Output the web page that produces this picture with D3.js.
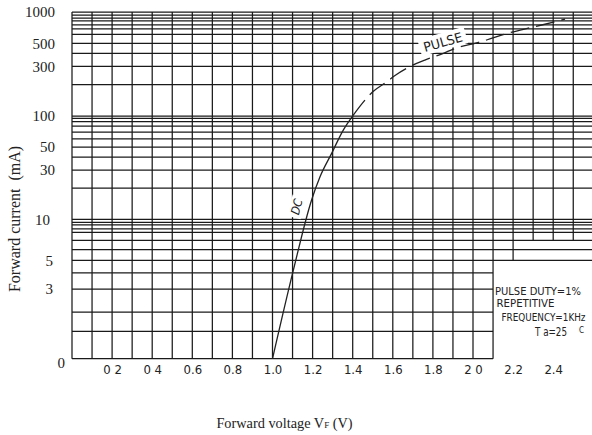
<!DOCTYPE html>
<html>
<head>
<meta charset="utf-8">
<script src="https://d3js.org/d3.v7.min.js"></script>
<style>
body { margin: 0; background: #fff; }
.tech { font-family: "DejaVu Sans Condensed", "DejaVu Sans", sans-serif; font-stretch: condensed; fill: #222; }
.serif { font-family: "Liberation Serif", "Times New Roman", serif; fill: #222; }
</style>
</head>
<body>
<script>
// values
var dcVoltage = [1.0, 1.104, 1.195, 1.237, 1.295, 1.353, 1.403];
var dcCurrent = [1, 4.2, 15.4, 25.8, 43.5, 73, 102];

var pulseVoltage = [1.403, 1.461, 1.5, 1.573, 1.611, 1.702, 1.76, 1.852, 1.902, 2.018, 2.068, 2.168, 2.284, 2.343, 2.459];
var pulseCurrent = [102, 142, 171, 215, 245, 310, 345, 400, 440, 505, 538, 620, 705, 750, 855];

var xTickValues = [0.2, 0.4, 0.6, 0.8, 1.0, 1.2, 1.4, 1.6, 1.8, 2.0, 2.2, 2.4];
var xTickLabels = ["0 2", "0 4", "0.6", "0.8", "1.0", "1.2", "1.4", "1.6", "1.8", "2 0", "2.2", "2.4"];

var yTickValues = [1000, 500, 300, 100, 50, 30, 10, 5, 3, 1];
var yTickLabels = ["1000", "500", "300", "100", "50", "30", "10", "5", "3", "0"];

var xGridValues = [0, 0.1, 0.2, 0.3, 0.4, 0.5, 0.6, 0.7, 0.8, 0.9, 1.0, 1.1, 1.2,
                   1.3, 1.4, 1.5, 1.6, 1.7, 1.8, 1.9, 2.0, 2.1, 2.2, 2.3, 2.4, 2.5];
var yGridValues = [1000, 935, 875, 820, 750, 690, 610, 500, 400, 300, 200,
                   100, 95, 88, 80, 70, 60, 50, 40, 30, 20,
                   10, 9.5, 9.1, 8.5, 8, 7, 6, 5, 4, 3, 2, 1.5, 1];

var w = 592, h = 435;

var svg = d3.select("body").append("svg").attr("width", w).attr("height", h);

var x = d3.scaleLinear().domain([0, 2.6]).range([72, 593.3]);
// the paper's decades are not all the same height, so a piecewise scale on log10
var yLog = d3.scaleLinear()
    .domain([0, Math.log10(2), Math.log10(5), 1, 2, 3])
    .range([358.7, 312, 260.3, 219.3, 116, 12]);
function y(v) { return yLog(Math.log10(v)); }

var grid = svg.append("g").attr("stroke", "#1a1a1a").attr("stroke-width", 1.25);

// horizontal lines: below 5 mA they stop at the note box
grid.selectAll("line.h").data(yGridValues).enter().append("line")
    .attr("class", "h")
    .attr("x1", x(0))
    .attr("x2", function(d){ return d >= 5 ? x(2.6) : x(2.1); })
    .attr("y1", function(d){ return y(d); })
    .attr("y2", function(d){ return y(d); });

// vertical lines: the right ones stop above the note box
grid.selectAll("line.v").data(xGridValues).enter().append("line")
    .attr("class", "v")
    .attr("x1", function(d){ return x(d); })
    .attr("x2", function(d){ return x(d); })
    .attr("y1", y(1000))
    .attr("y2", function(d){
        if (d < 2.15) return y(1);
        if (d < 2.25) return y(5);
        return y(7);
    });

// curves
var line = d3.line()
    .x(function(d){ return x(d[0]); })
    .y(function(d){ return y(d[1]); })
    .curve(d3.curveMonotoneX);

svg.append("path")
    .attr("d", line(dcVoltage.map(function(v, i){ return [v, dcCurrent[i]]; })))
    .attr("fill", "none").attr("stroke", "#222").attr("stroke-width", 1.3);

svg.append("path")
    .attr("d", line(pulseVoltage.map(function(v, i){ return [v, pulseCurrent[i]]; })))
    .attr("fill", "none").attr("stroke", "#222").attr("stroke-width", 1.3)
    .attr("stroke-dasharray", "19,7");

// curve labels on white patches
var pulseLab = svg.append("g")
    .attr("transform", "translate(" + x(1.85) + "," + y(515) + ") rotate(-16)");
pulseLab.append("rect").attr("x", -24).attr("y", -9).attr("width", 48).attr("height", 17).attr("fill", "#fff");
pulseLab.append("text").attr("class", "tech")
    .attr("text-anchor", "middle").attr("dy", "0.36em")
    .attr("font-size", 13).attr("textLength", 40).attr("lengthAdjust", "spacingAndGlyphs")
    .text("PULSE");

var dcLab = svg.append("g")
    .attr("transform", "translate(" + x(1.12) + "," + y(13.2) + ") rotate(-75)");
dcLab.append("rect").attr("x", -11).attr("y", -7).attr("width", 22).attr("height", 14).attr("fill", "#fff");
dcLab.append("text").attr("class", "tech")
    .attr("text-anchor", "middle").attr("dy", "0.36em")
    .attr("font-size", 12).attr("font-style", "italic")
    .text("DC");

// axes (labels only, the grid is the frame)
var xAxis = svg.append("g")
    .attr("transform", "translate(0," + y(1) + ")")
    .call(d3.axisBottom(x).tickValues(xTickValues)
        .tickFormat(function(d, i){ return xTickLabels[i]; })
        .tickSize(0).tickPadding(6));
xAxis.select(".domain").remove();
xAxis.attr("font-family", null).attr("font-size", null);
xAxis.selectAll("text").attr("class", "tech").attr("font-size", 13).attr("fill", "#222");

var yAxis = svg.append("g")
    .attr("transform", "translate(" + x(0) + ",0)")
    .call(d3.axisLeft(yLog).tickValues(yTickValues.map(function(v){ return Math.log10(v); }))
        .tickFormat(function(d, i){ return yTickLabels[i]; })
        .tickSize(0).tickPadding(17));
yAxis.select(".domain").remove();
yAxis.attr("font-family", null).attr("font-size", null);
yAxis.selectAll("text").attr("class", "serif").attr("font-size", 15).attr("fill", "#222")
    .attr("dx", function(d, i){
        var v = yTickValues[i];
        if (v === 1) return 10;
        if (v === 10) return -5;
        if (v < 10) return -2;
        return 0;
    })
    .attr("dy", function(d, i){ return yTickValues[i] === 1 ? "0.6em" : "0.32em"; });

// note box
var note = svg.append("g").attr("class", "tech");
note.append("text").attr("x", 495).attr("y", 294.5).attr("font-size", 11)
    .attr("textLength", 86).attr("lengthAdjust", "spacingAndGlyphs").text("PULSE DUTY=1%");
note.append("text").attr("x", 496.5).attr("y", 306.5).attr("font-size", 11)
    .attr("textLength", 58).attr("lengthAdjust", "spacingAndGlyphs").text("REPETITIVE");
note.append("text").attr("x", 501.5).attr("y", 321).attr("font-size", 10.5)
    .attr("textLength", 84).attr("lengthAdjust", "spacingAndGlyphs").text("FREQUENCY=1KHz");
note.append("text").attr("x", 535).attr("y", 336).attr("font-size", 13)
    .attr("textLength", 32).attr("lengthAdjust", "spacingAndGlyphs").text("T a=25");
note.append("text").attr("x", 579).attr("y", 333).attr("font-size", 8).text("C");

// titles
svg.append("text").attr("class", "serif")
    .attr("transform", "translate(20," + 219 + ") rotate(-90)")
    .attr("text-anchor", "middle").attr("font-size", 16)
    .attr("xml:space", "preserve")
    .text("Forward current  (mA)");

var xt = svg.append("text").attr("class", "serif")
    .attr("x", 284.5).attr("y", 428)
    .attr("text-anchor", "middle").attr("font-size", 14.3);
xt.append("tspan").text("Forward voltage V");
xt.append("tspan").attr("font-size", 9).text("F");
xt.append("tspan").text(" (V)");
</script>
</body>
</html>
